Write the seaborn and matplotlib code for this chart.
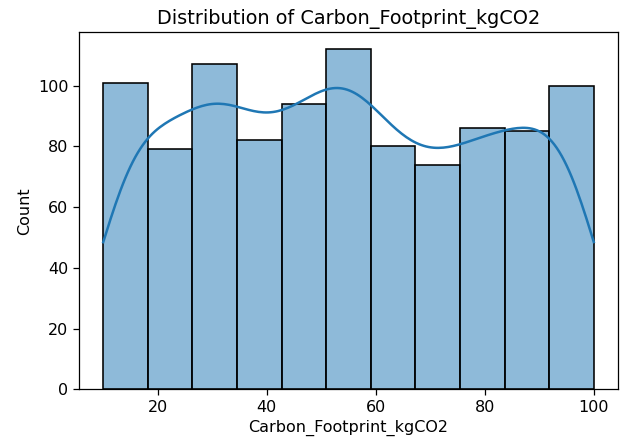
import numpy as np
import pandas as pd
import matplotlib
matplotlib.use("Agg")
import matplotlib.pyplot as plt
import seaborn as sns

# Binned counts of Carbon_Footprint_kgCO2 (11 equal-width bins over 10..100)
bin_edges = [10.0, 18.18, 26.36, 34.55, 42.73, 50.91, 59.09, 67.27, 75.45, 83.64, 91.82, 100.0]
bin_counts = [101, 79, 107, 82, 94, 112, 80, 74, 86, 85, 100]

bin_centers = [(a + b) / 2 for a, b in zip(bin_edges[:-1], bin_edges[1:])]
df = pd.DataFrame({"Carbon_Footprint_kgCO2": bin_centers, "count": bin_counts})

fig = plt.figure(figsize=(6.28, 4.44), dpi=100)
W, H = 628, 444
ax = fig.add_axes([78.7 / W, 1 - 389.3 / H, (618.3 - 78.7) / W, (389.3 - 32.3) / H])

sns.histplot(
    data=df,
    x="Carbon_Footprint_kgCO2",
    weights="count",
    bins=bin_edges,
    kde=True,
    kde_kws=dict(bw_adjust=0.4, cut=3, clip=(bin_edges[0], bin_edges[-1])),
    edgecolor="black",
    linewidth=1.15,
    color="#1f77b4",
    alpha=0.5,
    ax=ax,
)
for line in ax.lines:
    line.set_linewidth(1.8)

ax.set_title("Distribution of Carbon_Footprint_kgCO2", fontsize=13.9)
ax.set_xlabel("Carbon_Footprint_kgCO2", fontsize=11.5)
ax.set_ylabel("Count", fontsize=11.5)
ax.tick_params(labelsize=11.5, width=0.9, length=4)
for s in ax.spines.values():
    s.set_linewidth(0.9)

fig.savefig("out.png", dpi=100)
